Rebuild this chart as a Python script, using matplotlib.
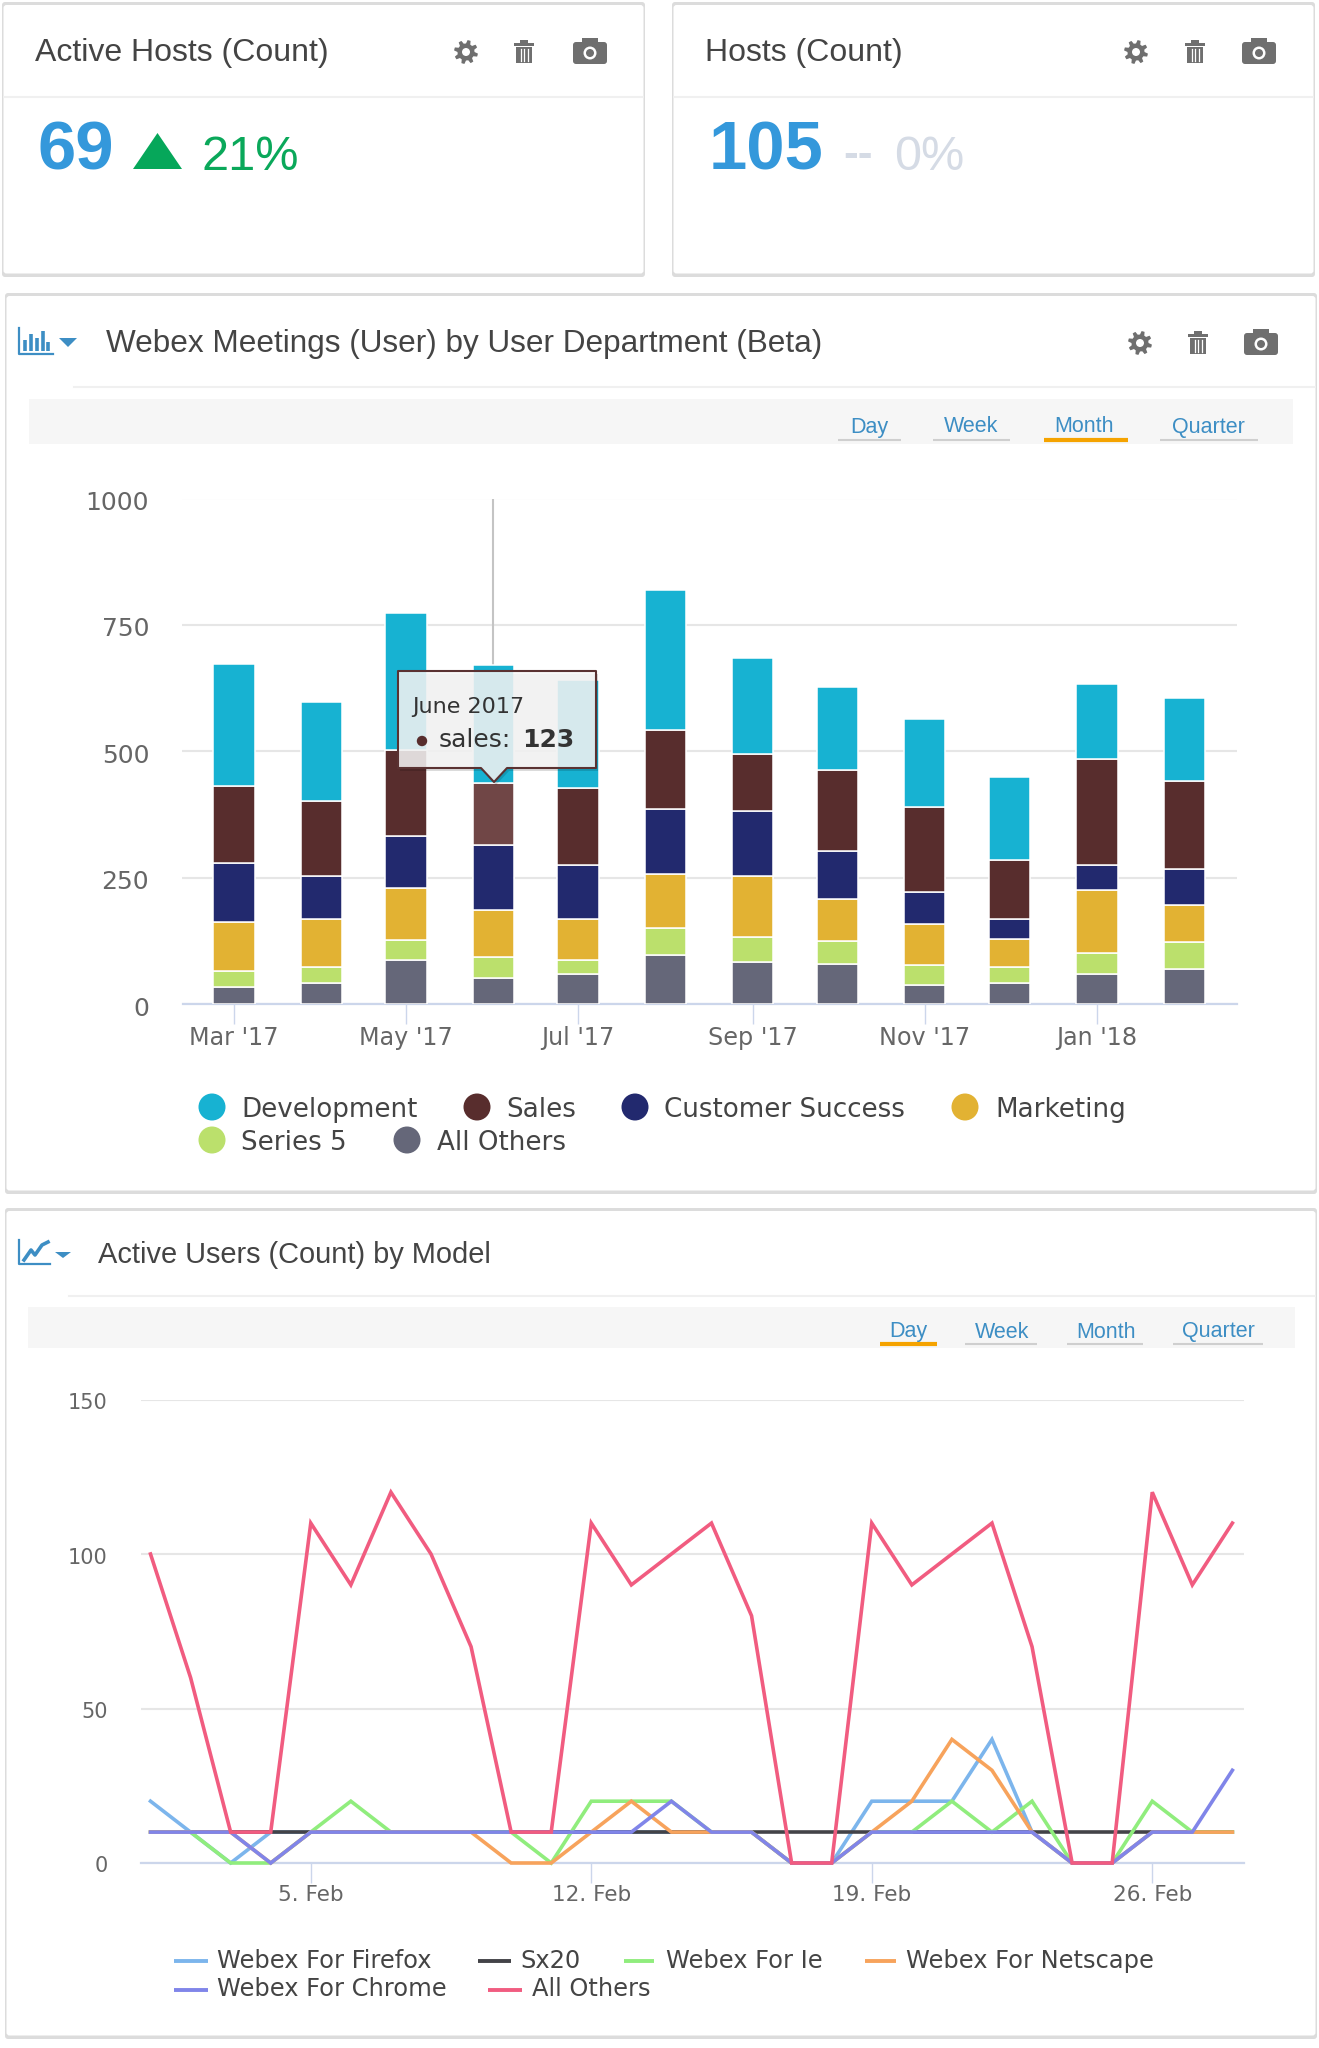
import datetime as dt
import numpy as np
import matplotlib
matplotlib.use("Agg")
import matplotlib.pyplot as plt
import matplotlib.dates as mdates
from matplotlib.patches import Rectangle, Polygon, Circle, FancyBboxPatch
from matplotlib.transforms import ScaledTranslation

# ---------- data ----------
kpi_titles = ["Active Hosts (Count)", "Hosts (Count)"]
kpi_values = ["69", "105"]
kpi_changes = ["21%", "0%"]

bar_title = "Webex Meetings (User) by User Department (Beta)"
bar_series = ["Development", "Sales", "Customer Success", "Marketing", "Series 5", "All Others"]
bar_colors = ["#17b2d2", "#582d2d", "#22296e", "#e2b233", "#bbe06c", "#656779"]
bar_months = [dt.date(2017, m, 1) for m in range(3, 13)] + [dt.date(2018, 1, 1), dt.date(2018, 2, 1)]
development = [241, 196, 271, 232, 212, 277, 191, 165, 174, 164, 150, 164]
sales = [152, 147, 169, 123, 153, 156, 112, 160, 169, 117, 210, 174]
customer_success = [116, 85, 103, 129, 107, 129, 129, 95, 62, 40, 49, 72]
marketing = [98, 95, 103, 94, 81, 107, 120, 84, 81, 54, 125, 72]
series_5 = [32, 32, 40, 41, 27, 54, 50, 45, 40, 32, 40, 54]
bar_others = [33, 42, 87, 51, 60, 96, 83, 79, 38, 42, 60, 69]
bar_yticks = [0, 250, 500, 750, 1000]

line_title = "Active Users (Count) by Model"
line_series = ["Webex For Firefox", "Sx20", "Webex For Ie", "Webex For Netscape", "Webex For Chrome", "All Others"]
line_colors = ["#7cb5ec", "#434348", "#90ed7d", "#f7a35c", "#8085e9", "#f15c80"]
line_days = [dt.date(2018, 2, d) for d in range(1, 29)]
firefox = [20, 10, 0, 10, 10, 10, 10, 10, 10, 10, 10, 10, 10, 10, 10, 10, 0, 0, 20, 20, 20, 40, 10, 0, 0, 10, 10, 10]
sx20 = [10] * 28
ie = [10, 10, 0, 0, 10, 20, 10, 10, 10, 10, 0, 20, 20, 20, 10, 10, 0, 0, 10, 10, 20, 10, 20, 0, 0, 20, 10, 10]
netscape = [10, 10, 10, 0, 10, 10, 10, 10, 10, 0, 0, 10, 20, 10, 10, 10, 0, 0, 10, 20, 40, 30, 10, 0, 0, 10, 10, 10]
chrome = [10, 10, 10, 0, 10, 10, 10, 10, 10, 10, 10, 10, 10, 20, 10, 10, 0, 0, 10, 10, 10, 10, 10, 0, 0, 10, 10, 30]
line_others = [100, 60, 10, 10, 110, 90, 120, 100, 70, 10, 10, 110, 90, 100, 110, 80, 0, 0, 110, 90, 100, 110, 70, 0, 0, 120, 90, 110]
line_yticks = [0, 50, 100, 150]
tab_names = ["Day", "Week", "Month", "Quarter"]

# ---------- canvas ----------
W, H = 1319, 2048
SANS = "Liberation Sans"
UI = "DejaVu Sans"
fig = plt.figure(figsize=(W / 100, H / 100), dpi=100, facecolor="white")


def px_axes(left, top, right, bottom, z=1):
    a = fig.add_axes([left / W, 1 - bottom / H, (right - left) / W, (bottom - top) / H], zorder=z)
    a.patch.set_alpha(0)
    return a


bg = px_axes(0, 0, W, H, 0)
bg.set_xlim(0, W)
bg.set_ylim(H, 0)
bg.axis("off")
ov = px_axes(0, 0, W, H, 3)
ov.set_xlim(0, W)
ov.set_ylim(H, 0)
ov.axis("off")

ICON = "#6f6f6f"
BLUE = "#3d8ec4"


def panel(x0, y0, x1, y1):
    bg.add_patch(FancyBboxPatch((x0 - 1, y0 - 2), x1 - x0 + 2, y1 - y0 + 4, boxstyle="round,pad=0,rounding_size=3",
                                fc="#dcdcdc", ec="none"))
    bg.add_patch(FancyBboxPatch((x0 + 0.5, y0 + 1), x1 - x0 - 1, y1 - y0 - 2.5, boxstyle="round,pad=0,rounding_size=3",
                                fc="white", ec="none"))


def gear(x, y):
    ang = np.linspace(0, 2 * np.pi, 48, endpoint=False) + np.pi / 8 / 3
    rad = np.where((np.arange(48) % 6) < 3, 12, 8.5)
    bg.add_patch(Polygon(np.c_[x + rad * np.cos(ang), y + rad * np.sin(ang)], fc=ICON, ec="none"))
    bg.add_patch(Circle((x, y), 4, fc="white", ec="none"))


def trash(x, y):
    bg.add_patch(Rectangle((x - 10, y - 9), 20, 3, fc=ICON, ec="none"))
    bg.add_patch(Rectangle((x - 4, y - 12), 8, 3, fc=ICON, ec="none"))
    bg.add_patch(Rectangle((x - 8, y - 5), 16, 16, fc=ICON, ec="none"))
    for dx in (-3.5, 0, 3.5):
        bg.plot([x + dx, x + dx], [y - 3, y + 9], color="white", lw=0.9)


def camera(x, y):
    bg.add_patch(FancyBboxPatch((x - 17, y - 10), 34, 22, boxstyle="round,pad=0,rounding_size=3", fc=ICON, ec="none"))
    bg.add_patch(Rectangle((x - 8, y - 14), 16, 5, fc=ICON, ec="none"))
    bg.add_patch(Circle((x, y + 1), 6.5, fc="white", ec="none"))
    bg.add_patch(Circle((x, y + 1), 4, fc=ICON, ec="none"))


def tools(xg, xt, xc, y):
    gear(xg, y)
    trash(xt, y)
    camera(xc, y)


def toolbar(x0, x1, y0, y1, cx, under, ytext, yline, active):
    bg.add_patch(Rectangle((x0, y0), x1 - x0, y1 - y0, fc="#f6f6f6", ec="none"))
    for i, name in enumerate(tab_names):
        bg.text(cx[i], ytext, name, family=SANS, fontsize=15.5, color=BLUE, ha="center", va="center")
        on = i == active
        bg.plot(under[i], [yline, yline], color="#f5a300" if on else "#cfcfcf", lw=3 if on else 1.5, solid_capstyle="butt")


def menu_arrow(x0, x1, y0, y1):
    bg.add_patch(Polygon([(x0, y0), (x1, y0), ((x0 + x1) / 2, y1)], fc=BLUE, ec="none"))


def shift_down(labels, px):
    off = ScaledTranslation(0, -px / 100, fig.dpi_scale_trans)
    for t in labels:
        t.set_transform(t.get_transform() + off)


# ---------- KPI panels ----------
panel(3, 4, 644, 275)
panel(673, 4, 1314, 275)
panel(6, 295, 1316, 1192)
panel(6, 1210, 1316, 2037)

bg.plot([4, 643], [97, 97], color="#f0f0f0", lw=1.5)
bg.plot([674, 1313], [97, 97], color="#f0f0f0", lw=1.5)
bg.plot([74, 1315], [387, 387], color="#f0f0f0", lw=1.5)
bg.plot([69, 1315], [1296, 1296], color="#f0f0f0", lw=1.5)

NUM = "#3498db"
bg.text(35, 53.5, kpi_titles[0], family=SANS, fontsize=23, color="#444444", va="center")
bg.text(705, 53.5, kpi_titles[1], family=SANS, fontsize=23, color="#444444", va="center")
tools(466, 524, 590, 52)
tools(1136, 1195, 1259, 52)
bg.text(37, 151.5, kpi_values[0], family=SANS, weight="bold", fontsize=49.5, color=NUM, va="center")
bg.text(709, 151.5, kpi_values[1], family=SANS, weight="bold", fontsize=49.5, color=NUM, va="center")
bg.add_patch(Polygon([(133, 169), (182, 169), (157.5, 133)], fc="#06a75a", ec="none"))
bg.text(202, 157, kpi_changes[0], family=SANS, fontsize=35, color="#0aa85a", va="center")
bg.text(843, 155, "--", family=SANS, weight="bold", fontsize=32, color="#d5dbe5", va="center")
bg.text(894, 157, kpi_changes[1], family=SANS, fontsize=35, color="#d5dbe5", va="center")

# ---------- bar chart header ----------
bg.plot([19, 19, 53], [328, 354, 354], color=BLUE, lw=1.6)
for dx, h in zip([25, 31, 37, 43, 48], [11, 17, 13, 20, 9]):
    bg.plot([dx, dx], [351, 351 - h], color=BLUE, lw=2.6, solid_capstyle="butt")
menu_arrow(59, 77, 338, 347)
bg.text(106, 344, bar_title, family=SANS, fontsize=22.7, color="#444444", va="center")
tools(1140, 1198, 1261, 343)
toolbar(29, 1293, 399, 444, [869, 971.5, 1084.5, 1208.5],
        [[838, 901], [933, 1010], [1044, 1128], [1160, 1258]], 427, 439.5, 2)

# ---------- bar chart ----------
BAR_L, BAR_R, BAR_T, BAR_B = 182.5, 1237, 498.5, 1004
ax = px_axes(BAR_L, BAR_T, BAR_R, BAR_B)
d0 = mdates.date2num(bar_months[0])
ppd = 2.82
ax.set_xlim(d0 - (234 - BAR_L) / ppd, d0 + (BAR_R - 234) / ppd)
ax.set_ylim(0, 1000)
dates = mdates.date2num(bar_months)
stack_bottom_up = [bar_others, series_5, marketing, customer_success, sales, development]
colors_bottom_up = bar_colors[::-1]
base = np.zeros(12)
for vals, col in zip(stack_bottom_up, colors_bottom_up):
    vals = np.array(vals, float)
    bars = ax.bar(dates, vals, width=14.6, bottom=base, color=col, edgecolor="white", linewidth=1.1, zorder=3)
    if col == bar_colors[1]:
        bars[3].set_facecolor("#704646")
    base += vals
ax.axvline(dates[3], color="#c4c4c4", lw=1.5, zorder=2)
ax.set_yticks(bar_yticks)
ax.set_xticks(dates[::2])
ax.set_xticklabels([d.strftime("%b '%y") for d in bar_months[::2]])
ax.grid(axis="y", color="#e6e6e6", lw=1.5, zorder=0)
ax.set_axisbelow(True)
for s in ("top", "right", "left"):
    ax.spines[s].set_visible(False)
ax.spines["bottom"].set_color("#ccd6eb")
ax.spines["bottom"].set_linewidth(1.6)
ax.tick_params(axis="y", length=0, pad=24, labelsize=18, labelcolor="#666666")
ax.tick_params(axis="x", length=14.5, width=1, color="#ccd6eb", pad=1.5, labelsize=17.2, labelcolor="#666666")
for t in ax.get_yticklabels() + ax.get_xticklabels():
    t.set_fontfamily(UI)
shift_down(ax.get_yticklabels(), 2)

# tooltip
shape = [(398, 671), (596, 671), (596, 768), (507, 768), (494, 782), (481, 768), (398, 768)]
ov.add_patch(Polygon([(x + 2, y + 3) for x, y in shape], fc="#000000", alpha=0.14, ec="none"))
ov.add_patch(Polygon(shape, fc="#f7f7f7", alpha=0.86, ec="none"))
ov.add_patch(Polygon(shape, fc="none", ec="#5a3232", lw=1.5, joinstyle="round"))
ov.text(412, 707, "June 2017", family=UI, fontsize=16, color="#333333", va="center")
ov.add_patch(Circle((422, 741), 5.2, fc=bar_colors[1], ec="none"))
ov.text(439, 740, bar_series[1].lower() + ":", family=UI, fontsize=18, color="#333333", va="center")
ov.text(522, 740, str(sales[3]), family=UI, weight="bold", fontsize=18, color="#333333", va="center")

# bar legend
bar_leg = [(212, 241, 1107), (477, 506, 1107), (635, 664, 1107), (965, 995, 1107), (212, 241, 1140), (407, 437, 1140)]
for (dot, tx, y), name, col in zip(bar_leg, bar_series, bar_colors):
    bg.add_patch(Circle((dot, y), 13.5, fc=col, ec="none"))
    bg.text(tx, y + 3, name, family=UI, fontsize=18.8, color="#444444", va="center")

# ---------- line chart header ----------
bg.plot([19, 19, 50], [1240, 1264, 1264], color=BLUE, lw=1.6)
bg.plot([24, 31, 35, 42, 48], [1260, 1250, 1255, 1245, 1242], color=BLUE, lw=2.6)
menu_arrow(55, 71, 1252, 1258)
bg.text(98, 1255, line_title, family=SANS, fontsize=20.9, color="#444444", va="center")
toolbar(28, 1295, 1307, 1348, [908.5, 1002.5, 1105.5, 1218.5],
        [[880, 937], [965, 1037], [1067, 1143], [1173, 1263]], 1332, 1343.5, 0)

# ---------- line chart ----------
LIN_L, LIN_R, LIN_T, LIN_B = 141, 1244, 1399.5, 1863
ax2 = px_axes(LIN_L, LIN_T, LIN_R, LIN_B)
d1 = mdates.date2num(line_days[0])
ppd2 = 40.07
ax2.set_xlim(d1 - (150.5 - LIN_L) / ppd2, d1 + (LIN_R - 150.5) / ppd2)
ax2.set_ylim(0, 150)
xs = mdates.date2num(line_days)
for vals, col in zip([firefox, sx20, ie, netscape, chrome, line_others], line_colors):
    ax2.plot(xs, vals, color=col, lw=2.6, clip_on=False, solid_joinstyle="miter", zorder=3)
tick_days = line_days[4::7]
ax2.set_xticks(mdates.date2num(tick_days))
ax2.set_xticklabels([f"{d.day}. {d.strftime('%b')}" for d in tick_days])
ax2.set_yticks(line_yticks)
ax2.grid(axis="y", color="#e6e6e6", lw=1.5, zorder=0)
ax2.set_axisbelow(True)
for s in ("top", "right", "left"):
    ax2.spines[s].set_visible(False)
ax2.spines["bottom"].set_color("#ccd6eb")
ax2.spines["bottom"].set_linewidth(1.6)
ax2.tick_params(axis="y", length=0, pad=24, labelsize=15, labelcolor="#666666")
ax2.tick_params(axis="x", length=14.5, width=1, color="#ccd6eb", pad=1.5, labelsize=15.5, labelcolor="#666666")
for t in ax2.get_yticklabels() + ax2.get_xticklabels():
    t.set_fontfamily(UI)
shift_down(ax2.get_yticklabels(), 1.5)

# line legend
line_leg = [(174, 208, 217, 1961), (478, 511, 520, 1961), (624, 654, 666, 1961), (865, 896, 906, 1961),
            (174, 208, 217, 1989.5), (488, 522, 532, 1989.5)]
for (a, b, tx, y), name, col in zip(line_leg, line_series, line_colors):
    bg.plot([a, b], [y, y], color=col, lw=2.8, solid_capstyle="butt")
    bg.text(tx, y, name, family=UI, fontsize=17.4, color="#444444", va="center")

fig.savefig("out.png", dpi=100, facecolor="white")
